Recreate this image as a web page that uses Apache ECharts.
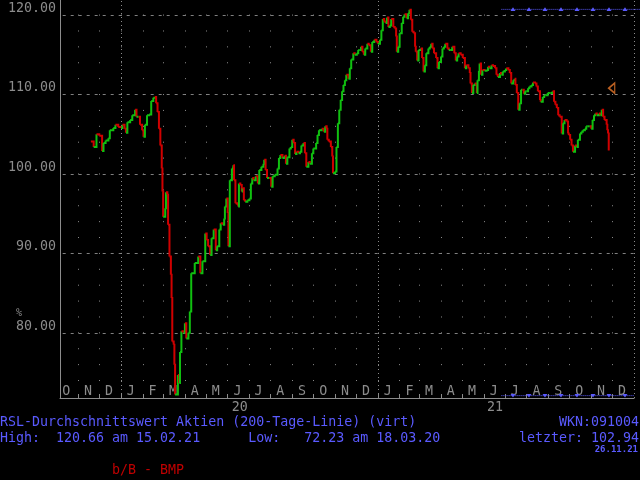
<!DOCTYPE html>
<html><head><meta charset="utf-8">
<script src="https://cdn.jsdelivr.net/npm/echarts@6/dist/echarts.min.js"></script>
<style>html,body{margin:0;padding:0;background:#000;}#c{width:640px;height:480px;}</style>
</head><body><div id="c"></div>
<script>
// days after 2020-01-01
const dayOffset = [-43,-39,-35,-31,-27,-25,-22,-18,-16,-11,-8,-4,0,2,5,7,9,13,16,20,22,25,27,30,32,34,37,40,43,46,48,50,52,54,56,58,59,60,63,64,66,67,69,71,72,73,75,76,77,81,83,84,86,89,91,93,96,98,100,105,110,113,116,120,122,124,127,129,132,135,137,140,142,145,147,148,150,152,153,155,158,160,161,163,166,167,168,170,172,173,175,177,180,183,185,187,189,192,195,197,200,203,204,206,208,211,214,216,219,223,225,227,230,233,235,237,240,242,244,246,248,250,253,255,257,260,262,264,267,269,272,274,278,280,282,286,289,291,293,294,296,299,301,302,305,307,309,311,313,315,317,319,321,324,326,328,331,333,336,338,340,342,344,346,348,351,353,356,358,361,364,366,369,371,373,375,377,379,381,383,385,388,390,392,393,395,397,400,402,404,407,409,411,413,415,417,419,420,422,424,427,429,431,433,435,438,440,442,444,446,449,451,453,456,458,460,462,465,467,469,472,475,477,479,481,484,487,490,492,495,497,498,500,502,504,507,508,510,511,513,515,518,521,523,525,528,530,533,535,537,540,542,544,547,549,552,554,556,559,561,562,564,566,568,570,572,574,576,578,580,582,585,587,590,592,594,597,598,601,603,605,608,610,612,615,617,619,621,623,625,628,630,632,635,637,638,640,642,644,647,649,651,654,656,658,661,663,665,668,670,672,674,676,678,681,683,685,687,689,692,693,694,695];
const rslValue = [104.1,103.4,105.0,104.8,102.9,103.9,104.2,104.5,105.5,105.8,106.2,105.9,105.8,106.2,105.7,105.2,106.5,106.8,107.4,108.1,107.2,107.2,106.2,105.5,104.7,106.2,107.4,107.5,109.2,109.6,109.7,108.9,107.8,105.7,103.6,100.7,97.8,94.6,95.7,97.7,97.4,93.6,89.6,87.3,84.4,78.9,78.5,76.0,72.23,74.7,73.7,77.6,80.2,80.0,81.2,79.3,80.0,82.7,87.5,88.8,89.6,87.5,89.0,92.5,91.7,90.9,89.8,91.9,93.0,90.4,90.9,93.0,93.8,93.6,94.4,95.9,96.9,95.1,90.9,99.2,100.7,101.1,99.2,96.3,96.1,95.9,98.8,98.6,97.8,98.2,96.7,96.5,96.7,96.9,98.8,99.5,99.2,99.7,98.8,100.5,100.9,101.3,101.8,100.5,99.5,99.5,98.4,99.7,99.9,100.7,102.0,102.4,102.0,102.3,101.3,102.1,103.2,103.4,104.3,103.9,102.5,102.8,102.6,102.8,103.6,103.9,102.6,100.9,101.5,101.3,102.6,103.2,103.9,104.9,105.5,105.7,105.3,106.0,105.7,104.3,104.1,103.4,102.2,100.1,100.3,103.4,106.4,108.1,109.3,110.4,111.2,111.8,112.5,112.0,113.3,114.4,115.2,115.0,115.2,115.6,115.6,116.0,115.4,115.0,115.8,116.4,116.2,115.4,116.6,116.9,116.6,116.4,116.9,118.1,119.5,119.2,119.0,119.7,118.5,118.7,119.5,118.5,118.3,117.3,115.4,116.0,117.7,119.0,119.8,120.1,119.6,120.2,120.66,119.4,117.9,117.7,116.0,115.4,114.3,115.6,115.8,114.6,112.9,113.7,115.2,115.8,116.0,116.4,115.8,115.2,114.6,113.3,114.1,114.8,115.8,116.0,116.4,115.8,115.6,115.6,116.0,115.2,114.3,114.8,115.2,115.0,114.6,113.3,113.7,113.3,112.7,111.4,110.2,111.2,111.4,110.2,111.8,113.0,113.9,112.5,113.1,113.0,113.1,113.5,113.3,113.7,113.6,113.3,112.5,112.2,112.7,112.5,112.9,113.1,113.3,113.1,112.7,111.4,111.8,112.0,111.2,110.2,108.1,108.9,110.6,110.6,110.1,110.4,110.4,110.8,111.0,111.2,111.5,111.4,111.0,110.4,109.3,109.1,109.7,109.9,109.9,110.2,110.2,110.2,110.4,109.1,108.7,108.3,107.4,107.2,105.1,106.4,106.8,106.6,105.1,104.9,104.3,103.6,102.8,103.6,103.4,104.3,105.1,105.3,105.5,105.7,106.0,106.0,106.0,105.7,106.8,107.4,107.6,107.4,107.6,107.4,108.1,107.2,106.8,106.2,105.5,105.1,102.94];
const monthLetters = ['O','N','D','J','F','M','A','M','J','J','A','S','O','N','D','J','F','M','A','M','J','J','A','S','O','N','D'];
const yTickValues = [80,90,100,110,120];
const yearLabels = ['20','21'];
const yearLabelDates = ['2020-06-18','2021-06-17'];
const yearLines = ['2020-01-01','2021-01-01','2022-01-01'];
const lastDate = '2021-11-26';
const markerLevel = 110.8;
const rangeStart = '2021-06-26';
const rangeTopLevel = 120.72, rangeBottomLevel = 72.1;
const axisMin = '2019-10-06', axisMax = '2022-01-01';
const yMin = 71.8, yMax = 121.9;

const DAY0 = Date.UTC(2020,0,1);
const ts = s => Date.parse(s + 'T00:00:00Z');
const pts = dayOffset.map((d,i) => [DAY0 + d*864e5, rslValue[i]]);

const monthStarts = [], monthMids = [];
for (let k = 0; k < monthLetters.length; k++) {
  const y = 2019 + Math.floor((9 + k) / 12), m = (9 + k) % 12;
  if (k > 0) monthStarts.push(Date.UTC(y, m, 1));
  monthMids.push(Date.UTC(y, m, 15));
}
const yearTs = yearLabelDates.map(ts);
const GRAY = '#8c8c8c', BLUE = '#5a5aff', FONT = 'DejaVu Sans Mono';

const chart = echarts.init(document.getElementById('c'), null, {renderer:'canvas'});
chart.setOption({
  backgroundColor: '#000',
  animation: false,
  grid: {left:60, right:6, top:0, bottom:82, containLabel:false},
  xAxis: [{
    type:'value', min: ts(axisMin), max: ts(axisMax), position:'bottom', scale:true,
    axisLine:{show:true, onZero:false, lineStyle:{color:GRAY, width:1}},
    axisTick:{show:true, inside:true, length:4, customValues: monthStarts, lineStyle:{color:GRAY}},
    axisLabel:{show:true, inside:true, margin:0, customValues: monthMids,
      formatter: v => { const d = new Date(v); const k = (d.getUTCFullYear()-2019)*12 + d.getUTCMonth() - 9; return monthLetters[k] || ''; },
      color:GRAY, fontFamily:FONT, fontSize:13.3},
    splitLine:{show:true, lineStyle:{color:GRAY, width:1, type:[1,14.888], dashOffset:1.29}}
  },{
    type:'value', min: ts(axisMin), max: ts(axisMax), position:'bottom', scale:true,
    axisLine:{show:false, onZero:false}, axisTick:{show:false, customValues: yearTs}, splitLine:{show:false},
    axisLabel:{show:true, margin:3, customValues: yearTs,
      formatter: v => { const i = yearTs.indexOf(v); return i >= 0 ? yearLabels[i] : ''; },
      color:GRAY, fontFamily:FONT, fontSize:13.3}
  }],
  yAxis: {
    type:'value', min:yMin, max:yMax, scale:true,
    axisLine:{show:true, onZero:false, lineStyle:{color:GRAY, width:1}},
    axisTick:{show:false, customValues: yTickValues},
    axisLabel:{show:true, customValues: yTickValues, formatter: v => v.toFixed(2), margin:4,
      verticalAlign:'bottom', color:GRAY, fontFamily:FONT, fontSize:13.3},
    splitLine:{show:true, lineStyle:{color:'#808080', width:1, type:[3,5], dashOffset:5.3}}
  },
  series: [{
    type:'custom', name:'RSL', data: pts, encode:{x:0, y:1}, clip:true, z:5,
    renderItem: (params, api) => {
      const i = params.dataIndex;
      if (i === 0) return null;
      const p = api.coord(pts[i-1]);
      const c = api.coord([api.value(0), api.value(1)]);
      const up = pts[i][1] >= pts[i-1][1];
      return {type:'polyline', shape:{points:[p,[c[0],p[1]],c]},
        style:{stroke: up ? '#10c010' : '#d00000', lineWidth:2, fill:null}};
    }
  },{
    type:'scatter', name:'marker', z:6,
    data:[[ts(lastDate), markerLevel]],
    symbol:'triangle', symbolRotate:90, symbolSize:[10,6], symbolOffset:[3,0],
    itemStyle:{color:'rgba(0,0,0,0)', borderColor:'#e8782a', borderWidth:1.5},
    markLine:{silent:true, symbol:'none', label:{show:false}, animation:false,
      lineStyle:{color:GRAY, type:[1,3], width:1},
      data: yearLines.map(d => ({xAxis: ts(d)}))}
  },{
    type:'custom', name:'range', clip:false, z:7,
    data:[[ts(rangeStart), rangeTopLevel]], encode:{x:0, y:1},
    renderItem: (params, api) => {
      const a = api.coord([ts(rangeStart), rangeTopLevel]);
      const b = api.coord([ts(axisMax), rangeBottomLevel]);
      const ch = [
        {type:'line', shape:{x1:a[0], y1:a[1], x2:b[0]+6, y2:a[1]}, style:{stroke:BLUE, lineWidth:1, lineDash:[1,1]}},
        {type:'line', shape:{x1:a[0], y1:b[1], x2:b[0], y2:b[1]}, style:{stroke:BLUE, lineWidth:1, lineDash:[1,1]}}
      ];
      for (let x = a[0] + 11.6; x < b[0]; x += 16) {
        ch.push({type:'polygon', shape:{points:[[x-2.5,a[1]+1.7],[x+2.5,a[1]+1.7],[x,a[1]-2]]}, style:{fill:BLUE}});
        ch.push({type:'polygon', shape:{points:[[x-2.5,b[1]-1.7],[x+2.5,b[1]-1.7],[x,b[1]+2]]}, style:{fill:BLUE}});
      }
      return {type:'group', children: ch};
    }
  }],
  graphic: [
    {type:'text', x:19, y:313, style:{text:'%', fill:GRAY, font:'10px "DejaVu Sans Mono"', align:'center', verticalAlign:'middle'}},
    {type:'text', x:0, y:423, style:{text:'RSL-Durchschnittswert Aktien (200-Tage-Linie) (virt)', fill:BLUE, font:'13.3px "DejaVu Sans Mono"', align:'left', verticalAlign:'middle'}},
    {type:'text', x:639, y:423, style:{text:'WKN:091004', fill:BLUE, font:'13.3px "DejaVu Sans Mono"', align:'right', verticalAlign:'middle'}},
    {type:'text', x:0, y:439, style:{text:'High:  120.66 am 15.02.21      Low:   72.23 am 18.03.20', fill:BLUE, font:'13.3px "DejaVu Sans Mono"', align:'left', verticalAlign:'middle'}},
    {type:'text', x:639, y:439, style:{text:'letzter: 102.94', fill:BLUE, font:'13.3px "DejaVu Sans Mono"', align:'right', verticalAlign:'middle'}},
    {type:'text', x:638, y:450, style:{text:'26.11.21', fill:BLUE, font:'bold 9px "DejaVu Sans Mono"', align:'right', verticalAlign:'middle'}},
    {type:'text', x:112, y:471, style:{text:'b/B - BMP', fill:'#c00000', font:'13.3px "DejaVu Sans Mono"', align:'left', verticalAlign:'middle'}}
  ]
});
</script></body></html>
